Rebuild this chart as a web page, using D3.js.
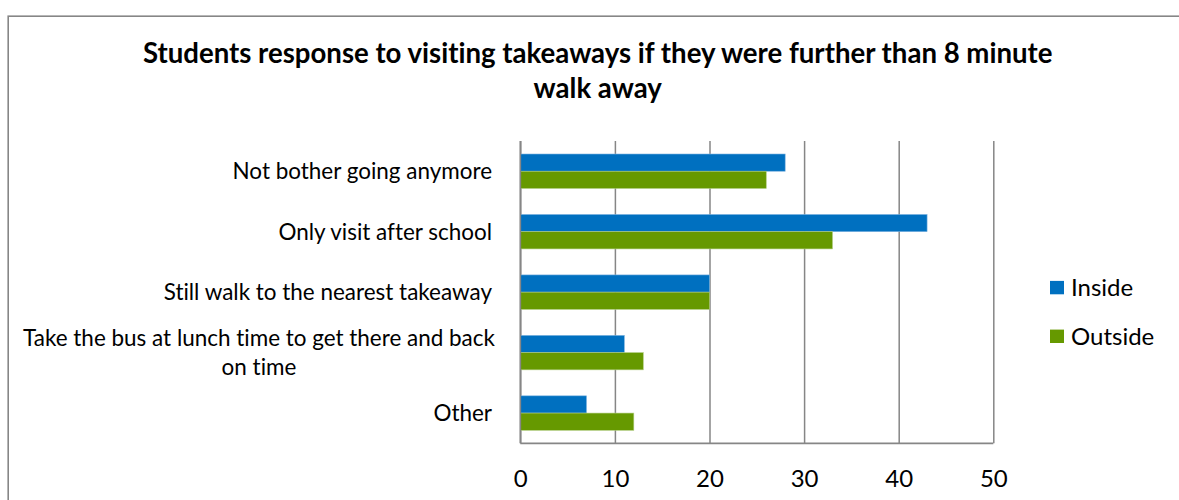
<!DOCTYPE html>
<html>
<head>
<meta charset="utf-8">
<script src="https://cdn.jsdelivr.net/npm/d3@7"></script>
<style>
  html, body { margin: 0; padding: 0; background: #ffffff; }
  svg { display: block; font-family: Lato, "Open Sans", "Liberation Sans", sans-serif; font-variant-ligatures: none; font-feature-settings: "liga" 0, "clig" 0; }
  svg text { font-variant-ligatures: none; font-feature-settings: "liga" 0, "clig" 0; }
</style>
</head>
<body>
<svg id="chart" width="1179" height="500"></svg>
<script>
// ---- data ----
const categories = [
  "Not bother going anymore",
  "Only visit after school",
  "Still walk to the nearest takeaway",
  "Take the bus at lunch time to get there and back|on time",
  "Other"
];
const seriesNames = ["Inside", "Outside"];
const insideValues = [28, 43, 20, 11, 7];
const outsideValues = [26, 33, 20, 13, 12];
const tickValues = [0, 10, 20, 30, 40, 50];
const titleLines = ["Students response to visiting takeaways if they were further than 8 minute", "walk away"];
const colors = ["#0070C0", "#669900"];

// ---- layout ----
const svg = d3.select("#chart");
const plot = { left: 520.3, right: 993.3, top: 141, bottom: 443.3 };
const gridColor = "#868686";

// chart frame
svg.append("rect")
  .attr("x", 8.2).attr("y", 16.2)
  .attr("width", 1400).attr("height", 800)
  .attr("fill", "#ffffff")
  .attr("stroke", gridColor).attr("stroke-width", 1.6);

function fitFont(sel, targetWidth) {
  sel.style("font-size", "100px");
  const w = sel.node().getComputedTextLength();
  sel.style("font-size", (100 * targetWidth / w) + "px");
}

// title
const t1 = svg.append("text")
  .attr("x", 597.7).attr("y", 63.3)
  .attr("text-anchor", "middle")
  .attr("font-weight", "bold")
  .attr("fill", "#000")
  .text(titleLines[0]);
fitFont(t1, 910);
const titleSize = t1.style("font-size");
svg.append("text")
  .attr("x", 597.7).attr("y", 97.5)
  .attr("text-anchor", "middle")
  .attr("font-weight", "bold")
  .attr("fill", "#000")
  .style("font-size", titleSize)
  .text(titleLines[1]);

// scales
const x = d3.scaleLinear().domain([0, 50]).range([plot.left, plot.right]);
const y = d3.scaleBand().domain(categories).range([plot.top, plot.bottom])
  .paddingInner(0.43).paddingOuter(0.215);
const ySub = d3.scaleBand().domain(seriesNames).range([0, y.bandwidth()]);

// gridlines
const grid = svg.append("g")
  .attr("transform", `translate(0,${plot.bottom})`)
  .call(d3.axisBottom(x).tickValues(tickValues).tickSize(-(plot.bottom - plot.top)).tickFormat(""));
grid.select(".domain").remove();
grid.selectAll("line").attr("stroke", gridColor).attr("stroke-width", 1.5);

// bars
const rows = categories.map((c, i) => ({ cat: c, values: [insideValues[i], outsideValues[i]] }));
const groups = svg.append("g").selectAll("g").data(rows).join("g")
  .attr("transform", d => `translate(0,${y(d.cat)})`);
groups.selectAll("rect")
  .data(d => d.values.map((v, j) => ({ name: seriesNames[j], v, j })))
  .join("rect")
  .attr("x", x(0))
  .attr("y", d => ySub(d.name))
  .attr("width", d => x(d.v) - x(0))
  .attr("height", ySub.bandwidth())
  .attr("fill", d => colors[d.j])
  .attr("stroke", d => d.j === 0 ? "#7fb4e0" : "#b0cc80")
  .attr("stroke-width", 0.6);

// axis lines (left & bottom)
svg.append("line").attr("x1", plot.left).attr("x2", plot.left)
  .attr("y1", plot.top).attr("y2", plot.bottom)
  .attr("stroke", gridColor).attr("stroke-width", 1.7);
svg.append("line").attr("x1", plot.left).attr("x2", plot.right)
  .attr("y1", plot.bottom).attr("y2", plot.bottom)
  .attr("stroke", gridColor).attr("stroke-width", 1.7);

// x tick labels
const xAxis = svg.append("g")
  .attr("transform", `translate(0,${plot.bottom})`)
  .call(d3.axisBottom(x).tickValues(tickValues).tickSize(0).tickPadding(0).tickFormat(d3.format("d")));
xAxis.select(".domain").remove();
xAxis.selectAll("text")
  .attr("y", 35)
  .attr("dy", "0.35em")
  .attr("fill", "#000")
  .style("font-family", "Lato, 'Open Sans', sans-serif")
  .style("font-size", "24px");

// y category labels
const yAxis = svg.append("g");
const catFont = (() => {
  const tmp = svg.append("text").text("Take the bus at lunch time to get there and back");
  fitFont(tmp, 472);
  const s = tmp.style("font-size");
  tmp.remove();
  return s;
})();
categories.forEach(c => {
  const lines = c.split("|");
  const cy = y(c) + y.bandwidth() / 2;
  const lh = 28.5;
  const t = yAxis.append("text")
    .attr("text-anchor", lines.length > 1 ? "middle" : "end")
    .attr("fill", "#000")
    .style("font-size", catFont);
  lines.forEach((ln, k) => {
    t.append("tspan")
      .attr("x", lines.length > 1 ? 259 : 492)
      .attr("y", cy + (k - (lines.length - 1) / 2) * lh)
      .attr("dy", "0.35em")
      .text(ln);
  });
});

// legend
const legend = svg.append("g");
const legendY = [287.6, 336.3];
seriesNames.forEach((n, i) => {
  legend.append("rect")
    .attr("x", 1050).attr("y", legendY[i] - 6.7)
    .attr("width", 14).attr("height", 13.4)
    .attr("fill", colors[i]);
  legend.append("text")
    .attr("x", 1071).attr("y", legendY[i])
    .attr("dy", "0.35em")
    .attr("fill", "#000")
    .style("font-size", "24px")
    .text(n);
});
</script>
</body>
</html>
